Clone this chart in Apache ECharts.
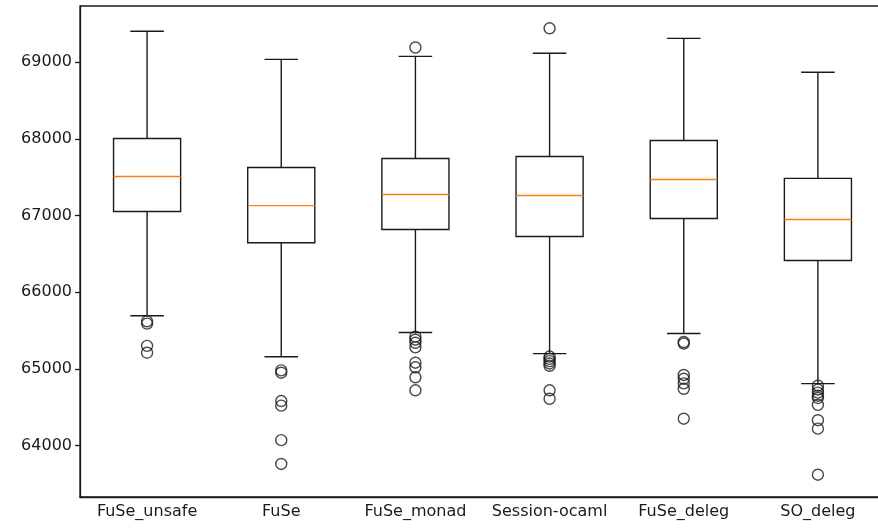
<!DOCTYPE html>
<html><head><meta charset="utf-8">
<script src="https://cdn.jsdelivr.net/npm/echarts@6/dist/echarts.min.js"></script>
<style>html,body{margin:0;padding:0;background:#fff}#c{width:878px;height:529px}</style>
</head><body><div id="c"></div>
<script>
const categories = ['FuSe_unsafe','FuSe','FuSe_monad','Session-ocaml','FuSe_deleg','SO_deleg'];
const whiskerLow  = [65693, 65157, 65473, 65199, 65460, 64807];
const q1          = [67051, 66645, 66817, 66725, 66960, 66412];
const median      = [67508, 67128, 67274, 67260, 67469, 66948];
const q3          = [68004, 67625, 67743, 67769, 67978, 67484];
const whiskerHigh = [69401, 69035, 69074, 69114, 69309, 68867];
const outFuSeUnsafe   = [65620, 65590, 65300, 65210];
const outFuSe         = [64980, 64950, 64580, 64520, 64070, 63760];
const outFuSeMonad    = [69190, 65420, 65380, 65340, 65280, 65080, 65020, 64890, 64720];
const outSessionOcaml = [69440, 65160, 65130, 65100, 65070, 65040, 64720, 64610];
const outFuSeDeleg    = [65350, 65330, 64920, 64870, 64810, 64740, 64350];
const outSODeleg      = [64780, 64730, 64690, 64650, 64620, 64530, 64330, 64220, 63620];
const yTicks = [64000, 65000, 66000, 67000, 68000, 69000];
const yMin = 63329, yMax = 69731;

const outliers = [outFuSeUnsafe, outFuSe, outFuSeMonad, outSessionOcaml, outFuSeDeleg, outSODeleg];
const boxData = categories.map((c, i) => [i, whiskerLow[i], q1[i], median[i], q3[i], whiskerHigh[i]]);
const outData = [];
outliers.forEach((arr, i) => arr.forEach(v => outData.push([i, v])));

const LW = 1.4;
const INK = '#1a1a1a';
function renderBox(params, api) {
  const idx = api.value(0);
  const bw = api.size([1, 0])[0];
  const half = bw * 0.25, capHalf = bw * 0.125;
  const pLo = api.coord([idx, api.value(1)]);
  const pQ1 = api.coord([idx, api.value(2)]);
  const pMed = api.coord([idx, api.value(3)]);
  const pQ3 = api.coord([idx, api.value(4)]);
  const pHi = api.coord([idx, api.value(5)]);
  const x = pQ1[0];
  const st = {stroke: INK, lineWidth: LW, fill: null};
  return {type: 'group', children: [
    {type: 'line', shape: {x1: x, y1: pLo[1], x2: x, y2: pQ1[1]}, style: st},
    {type: 'line', shape: {x1: x, y1: pQ3[1], x2: x, y2: pHi[1]}, style: st},
    {type: 'line', shape: {x1: x - capHalf, y1: pLo[1], x2: x + capHalf, y2: pLo[1]}, style: st},
    {type: 'line', shape: {x1: x - capHalf, y1: pHi[1], x2: x + capHalf, y2: pHi[1]}, style: st},
    {type: 'rect', shape: {x: x - half, y: pQ3[1], width: 2 * half, height: pQ1[1] - pQ3[1]}, style: {stroke: INK, lineWidth: LW, fill: 'none'}},
    {type: 'line', shape: {x1: x - half, y1: pMed[1], x2: x + half, y2: pMed[1]}, style: {stroke: '#ff7f0e', lineWidth: LW}}
  ]};
}

const chart = echarts.init(document.getElementById('c'), null, {renderer: 'canvas'});
chart.setOption({
  animation: false,
  backgroundColor: '#fff',
  grid: {left: 80, right: -7, top: 6, bottom: 32, outerBoundsMode: 'none', show: true, borderColor: INK, borderWidth: 1.3, containLabel: false},
  xAxis: {
    type: 'category', data: categories, boundaryGap: true,
    axisLine: {lineStyle: {color: INK, width: 1.3}},
    axisTick: {alignWithLabel: true, length: 5, lineStyle: {color: INK, width: 1.3}},
    axisLabel: {color: '#1a1a1a', fontFamily: 'DejaVu Sans', fontSize: 16, margin: 7, interval: 0},
    splitLine: {show: false}
  },
  yAxis: {
    type: 'value', min: yMin, max: yMax, scale: true,
    axisLine: {show: true, lineStyle: {color: INK, width: 1.3}},
    axisTick: {show: true, length: 5, customValues: yTicks, lineStyle: {color: INK, width: 1.3}},
    axisLabel: {color: '#1a1a1a', fontFamily: 'DejaVu Sans', fontSize: 16, margin: 8, customValues: yTicks, formatter: v => String(v)},
    splitLine: {show: false}
  },
  series: [
    {type: 'custom', renderItem: renderBox, data: boxData, encode: {x: 0, y: [1, 2, 3, 4, 5]}, z: 2},
    {type: 'scatter', data: outData, symbol: 'circle', symbolSize: 11,
     itemStyle: {color: 'rgba(0,0,0,0)', borderColor: INK, borderWidth: LW}, z: 3}
  ]
});
</script></body></html>
